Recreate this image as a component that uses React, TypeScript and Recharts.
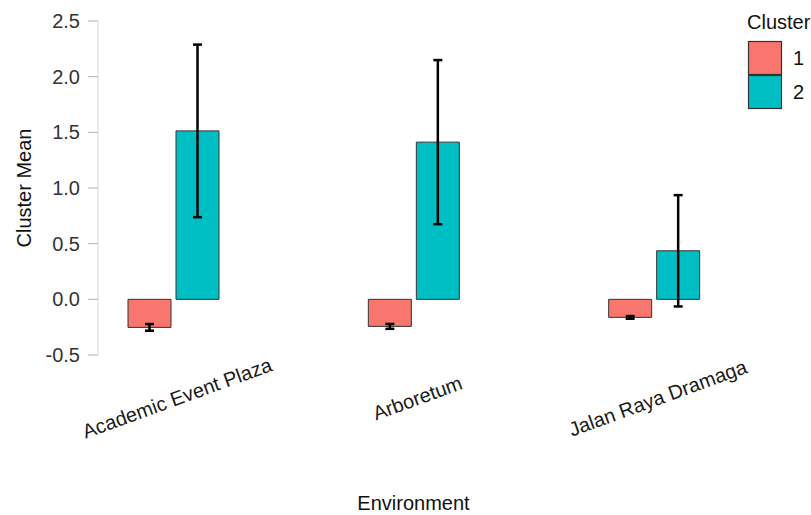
import React from "react";
import { BarChart, Bar, XAxis, YAxis, ErrorBar, Legend, Label } from "recharts";

const environments = ["Academic Event Plaza", "Arboretum", "Jalan Raya Dramaga"];
const cluster1Mean = [-0.252, -0.243, -0.162];
const cluster1Err = [0.03, 0.022, 0.012];
const cluster2Mean = [1.513, 1.412, 0.436];
const cluster2Err = [0.775, 0.737, 0.5];
const yTicks = [-0.5, 0, 0.5, 1, 1.5, 2, 2.5];
const clusterNames = ["1", "2"];
const clusterColors = ["#F8766D", "#00BFC4"];

const data = environments.map((env, i) => ({
  env,
  c1: cluster1Mean[i],
  e1: cluster1Err[i],
  c2: cluster2Mean[i],
  e2: cluster2Err[i],
}));

const FONT = '"Liberation Sans", Arial, Helvetica, sans-serif';
const PAD_LEFT = -45;

function EnvTick(props: any) {
  const { x, y, payload } = props;
  const cx = x + 4;
  const cy = y + 43;
  return (
    <text
      x={cx}
      y={cy}
      dy="0.35em"
      transform={`rotate(-20, ${cx}, ${cy})`}
      textAnchor="middle"
      fontSize={20}
      fill="#1a1a1a"
    >
      {payload.value}
    </text>
  );
}

function ClusterLegend(props: any) {
  const items = props.payload || [];
  return (
    <svg width={65} height={112}>
      <text x={1} y={29} fontSize={20} fill="#111">
        Cluster
      </text>
      {items.map((it: any, i: number) => (
        <g key={it.value}>
          <rect
            x={2.5}
            y={41.5 + i * 34}
            width={33}
            height={33}
            fill={it.color}
            stroke="#333"
            strokeWidth={1.2}
          />
          <text x={47} y={58 + i * 34} dy="0.35em" fontSize={20} fill="#111">
            {it.value}
          </text>
        </g>
      ))}
    </svg>
  );
}

export default function App() {
  return (
    <div style={{ width: 811, height: 515, fontFamily: FONT }}>
      <style>{"html,body{margin:0;padding:0;overflow:hidden}"}</style>
      <BarChart
        width={811}
        height={515}
        data={data}
        barGap={5}
        margin={{ top: 21, right: 37, bottom: 0, left: 0 }}
      >
        <XAxis
          dataKey="env"
          interval={0}
          axisLine={false}
          tickLine={false}
          tickSize={0}
          tickMargin={0}
          height={160}
          padding={{ left: PAD_LEFT, right: 0 }}
          tick={<EnvTick />}
        >
          <Label
            content={(p: any) => {
              const vb = p.viewBox;
              const cx = vb.x + PAD_LEFT + (vb.width - PAD_LEFT) / 2;
              return (
                <text x={cx} y={vb.y + vb.height - 5} textAnchor="middle" fontSize={20} fill="#111">
                  Environment
                </text>
              );
            }}
          />
        </XAxis>
        <YAxis
          type="number"
          domain={[-0.5, 2.5]}
          ticks={yTicks}
          interval={0}
          width={98}
          tickSize={10}
          tickMargin={8}
          axisLine={{ stroke: "#d4d4d4" }}
          tickLine={{ stroke: "#b0b0b0" }}
          tick={{ fontSize: 20, fill: "#333" }}
          tickFormatter={(v: number) => v.toFixed(1)}
        >
          <Label
            value="Cluster Mean"
            angle={-90}
            position="insideLeft"
            offset={24}
            style={{ textAnchor: "middle", fontSize: 20, fill: "#111" }}
          />
        </YAxis>
        <Legend
          layout="vertical"
          align="center"
          verticalAlign="middle"
          wrapperStyle={{ left: 746, top: 0, width: 65 }}
          content={<ClusterLegend />}
        />
        <Bar
          dataKey="c1"
          name={clusterNames[0]}
          fill={clusterColors[0]}
          stroke="#333"
          strokeWidth={1}
          barSize={43}
          isAnimationActive={false}
        >
          <ErrorBar dataKey="e1" direction="y" width={4.5} strokeWidth={2.5} stroke="#000" />
        </Bar>
        <Bar
          dataKey="c2"
          name={clusterNames[1]}
          fill={clusterColors[1]}
          stroke="#333"
          strokeWidth={1}
          barSize={43}
          isAnimationActive={false}
        >
          <ErrorBar dataKey="e2" direction="y" width={4.5} strokeWidth={2.5} stroke="#000" />
        </Bar>
      </BarChart>
    </div>
  );
}
